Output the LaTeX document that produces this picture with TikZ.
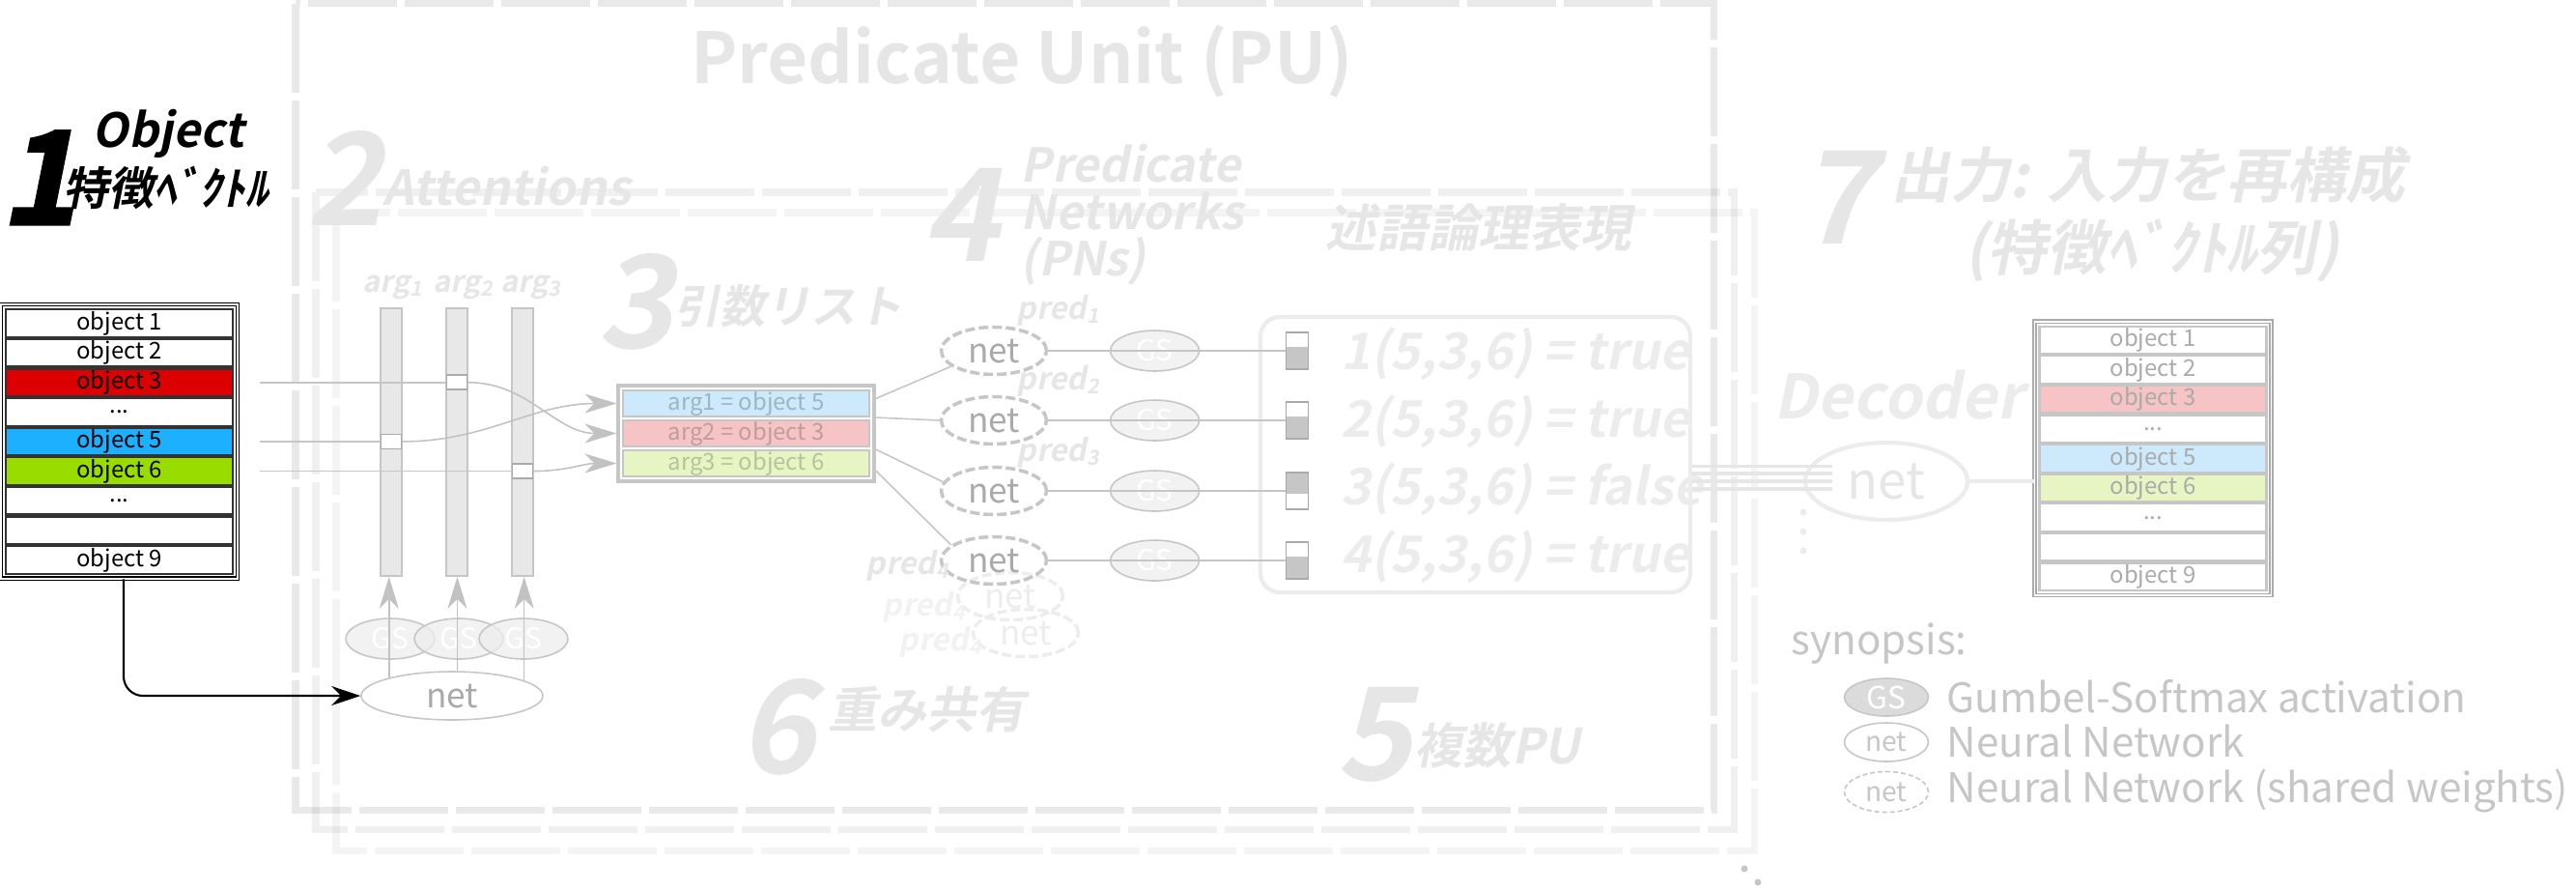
\documentclass[tikz,border=0pt]{standalone}
\usepackage{fontspec}
\setmainfont{Noto Sans CJK JP}
\newfontfamily\bfont{Noto Sans CJK JP Bold}
\newfontfamily\bifont{Noto Sans CJK JP Bold}[FakeSlant=0.2]
\newfontfamily\heavyfont{Noto Sans CJK JP Bold}[FakeSlant=0.2,FakeBold=2.5]
\usepackage{tikz}
\usetikzlibrary{positioning,arrows.meta,fit,shapes.geometric}

\definecolor{faint}{HTML}{E6E6E6}
\definecolor{fainter}{HTML}{ECECEC}
\definecolor{lgrey}{HTML}{C6C6C6}
\definecolor{mgrey}{HTML}{AAAAAA}
\definecolor{objred}{HTML}{DD0000}
\definecolor{objblue}{HTML}{1CB0FF}
\definecolor{objgreen}{HTML}{99DD00}
\definecolor{palered}{HTML}{F6C4C4}
\definecolor{paleblue}{HTML}{CCEAFB}
\definecolor{palegreen}{HTML}{E7F5C3}
\definecolor{redtext}{HTML}{C09C9C}
\definecolor{bluetext}{HTML}{9BB5C2}
\definecolor{greentext}{HTML}{B4C49C}

\begin{document}
\begin{tikzpicture}[
    node distance=0cm,
    puframe/.style={line width=2pt, draw=black, dash pattern=on 0.92cm off 0.08cm},
    bignum/.style={anchor=base west, inner sep=0pt, text=faint, font=\bifont\fontsize{38}{38}\selectfont},
    heading/.style={anchor=base west, inner sep=0pt, text=faint, font=\bifont\fontsize{13.8}{14}\selectfont},
    row/.style={rectangle, draw=black!80, line width=0.6pt, minimum width=2.35cm, minimum height=0.285cm, inner sep=0pt, font=\fontsize{6.8}{7}\selectfont},
    outrow/.style={row, draw=lgrey, text=mgrey},
    argrow/.style={row, draw=lgrey, line width=0.45pt, minimum width=2.55cm, minimum height=0.27cm},
    listframe/.style={draw, double, double distance=0.5pt, line width=0.4pt, inner sep=0.04cm},
    attbar/.style={rectangle, draw=lgrey, fill=black!9, line width=0.45pt, minimum width=0.22cm, minimum height=2.77cm, inner sep=0pt},
    sq/.style={rectangle, draw=mgrey, fill=white, line width=0.45pt, minimum width=0.21cm, minimum height=0.15cm, inner sep=0pt},
    gs/.style={ellipse, draw=lgrey, fill=black!7, fill opacity=0.75, text opacity=1, text=white, line width=0.45pt, minimum width=0.92cm, minimum height=0.42cm, inner sep=0pt, font=\fontsize{8.5}{9}\selectfont},
    net/.style={ellipse, draw=lgrey, fill=white, line width=0.45pt, text=mgrey, minimum width=1.88cm, minimum height=0.5cm, inner sep=0pt, font=\fontsize{10}{10}\selectfont},
    pnet/.style={net, fill=none, dash pattern=on 0.1cm off 0.04cm, line width=1pt, minimum width=1.09cm, minimum height=0.49cm},
    ghostnet/.style={pnet, draw=black!7, text=black!7},
    predlabel/.style={anchor=base west, inner sep=0pt, text=faint, font=\bifont\fontsize{9}{9}\selectfont},
    arglabel/.style={predlabel, font=\bifont\fontsize{8.7}{9}\selectfont},
    tvbar/.style={rectangle, draw=mgrey, line width=0.45pt, minimum width=0.23cm, minimum height=0.38cm, inner sep=0pt},
    tvtrue/.style={tvbar, path picture={\fill[lgrey] (path picture bounding box.south west) rectangle ([yshift=0.23cm]path picture bounding box.south east);}},
    tvfalse/.style={tvbar, path picture={\fill[lgrey] (path picture bounding box.north west) rectangle ([yshift=-0.22cm]path picture bounding box.north east);}},
    formula/.style={anchor=base west, inner sep=0pt, text=fainter, font=\bifont\fontsize{14.9}{15}\selectfont},
    conn/.style={draw=lgrey, line width=0.45pt},
    garrow/.style={conn, draw=black!24, -{Stealth[length=0.33cm, width=0.2cm, inset=0.1cm]}},
    blackarrow/.style={line width=0.6pt, -{Stealth[length=0.3cm, width=0.2cm, inset=0.1cm]}, rounded corners=0.2cm},
    legend/.style={anchor=base west, inner sep=0pt, text=lgrey, font=\fontsize{12}{13}\selectfont}
  ]
  \useasboundingbox (0,0) rectangle (26.67,-9.2);

  % Frames of the stacked predicate units
  \draw[puframe, draw opacity=0.045] (3.48,-2.20) rectangle (18.16,-8.80);
  \draw[puframe, draw opacity=0.06] (3.27,-1.99) rectangle (17.95,-8.58);
  \draw[puframe, draw opacity=0.085] (3.06,-0.035) rectangle (17.74,-8.38);

  % Titles
  \node[anchor=base, inner sep=0pt, text=faint, font=\bfont\fontsize{20.7}{21}\selectfont] (putitle) at (10.58,-0.86) {Predicate Unit (PU)};
  \node[bignum, text=black, font=\heavyfont\fontsize{38}{38}\selectfont] (one) at (0,-2.32) {1};
  \node[heading, text=black] (objtitle) at (0.95,-1.52) {Object};
  \node[heading, text=black, font=\bifont\fontsize{13.4}{14}\selectfont] (featvec) at (0.65,-2.12) {特徴ﾍﾞｸﾄﾙ};
  \node[bignum] (two) at (3.17,-2.33) {2};
  \node[heading, font=\bifont\fontsize{14.2}{15}\selectfont] (attn) at (3.96,-2.12) {Attentions};
  \node[bignum] (three) at (6.18,-3.60) {3};
  \node[heading, font=\bifont\fontsize{13.4}{14}\selectfont] (arglist) at (6.98,-3.34) {引数リスト};
  \node[bignum] (four) at (9.55,-2.70) {4};
  \node[heading] (pnA) at (10.56,-1.88) {Predicate};
  \node[heading] (pnB) at (10.56,-2.37) {Networks};
  \node[heading] (pnC) at (10.56,-2.85) {(PNs)};
  \node[heading, font=\bifont\fontsize{15}{15}\selectfont] (logic) at (13.72,-2.55) {述語論理表現};
  \node[bignum] (six) at (7.65,-8.00) {6};
  \node[heading, font=\bifont\fontsize{14.5}{15}\selectfont] (share) at (8.57,-7.53) {重み共有};
  \node[bignum] (five) at (13.83,-8.07) {5};
  \node[heading, font=\bifont\fontsize{14.3}{15}\selectfont] (multi) at (14.64,-7.90) {複数PU};
  \node[bignum] (seven) at (18.62,-2.52) {7};
  \node[anchor=base, inner sep=0pt, text=faint, font=\bifont\fontsize{17.6}{18}\selectfont] (outtitle) at (22.24,-2.04) {出力: 入力を再構成};
  \node[anchor=base, inner sep=0pt, text=faint, font=\bifont\fontsize{17.6}{18}\selectfont] (outsub) at (22.28,-2.79) {(特徴ﾍﾞｸﾄﾙ列)};
  \node[heading, text=fainter, font=\bifont\fontsize{18}{18}\selectfont] (decoder) at (18.36,-4.33) {Decoder};

  % Input objects
  \node[row] (o1) at (1.235,-3.345) {object 1};
  \node[row, below=of o1] (o2) {object 2};
  \node[row, fill=objred, below=of o2] (o3) {object 3};
  \node[row, below=of o3] (o4) {...};
  \node[row, fill=objblue, below=of o4] (o5) {object 5};
  \node[row, fill=objgreen, below=of o5] (o6) {object 6};
  \node[row, below=of o6] (o7) {...};
  \node[row, below=of o7] (o8) {};
  \node[row, below=of o8] (o9) {object 9};
  \node[listframe, fit=(o1)(o9)] (inlist) {};

  % Attentions
  \node[attbar] (bar1) at (4.05,-4.575) {};
  \node[attbar] (bar2) at (4.73,-4.575) {};
  \node[attbar] (bar3) at (5.41,-4.575) {};
  \node[arglabel] (arg1) at (3.75,-3.02) {arg\textsubscript{1}};
  \node[arglabel] (arg2) at (4.48,-3.02) {arg\textsubscript{2}};
  \node[arglabel] (arg3) at (5.18,-3.02) {arg\textsubscript{3}};
  \node[sq] (sq1) at (bar1 |- o5) {};
  \node[sq] (sq2) at (bar2 |- o3) {};
  \node[sq] (sq3) at (bar3 |- o6) {};
  \coordinate (in3) at ([xshift=0.27cm]o3.east);
  \coordinate (in5) at ([xshift=0.27cm]o5.east);
  \coordinate (in6) at ([xshift=0.27cm]o6.east);
  \node[gs] (gsa) at (4.04,-6.61) {GS};
  \node[gs] (gsb) at (4.75,-6.61) {GS};
  \node[gs] (gsc) at (5.42,-6.61) {GS};
  \node[net] (attnet) at (4.68,-7.20) {net};

  % Argument list
  \node[argrow, fill=paleblue, text=bluetext] (a1) at (7.725,-4.175) {arg1 = object 5};
  \node[argrow, fill=palered, text=redtext, below=0.024cm of a1] (a2) {arg2 = object 3};
  \node[argrow, fill=palegreen, text=greentext, below=0.024cm of a2] (a3) {arg3 = object 6};
  \node[draw=lgrey, line width=1pt, inner sep=0.04cm, fit=(a1)(a3)] (argbox) {};

  % Predicate networks
  \node[ghostnet] (ghost2) at (10.62,-6.55) {net};
  \node[ghostnet] (ghost1) at (10.46,-6.17) {net};
  \node[pnet] (net1) at (10.29,-3.63) {net};
  \node[pnet] (net2) at (10.29,-4.35) {net};
  \node[pnet] (net3) at (10.29,-5.08) {net};
  \node[pnet] (net4) at (10.29,-5.80) {net};
  \node[predlabel] (pred1) at (10.52,-3.30) {pred\textsubscript{1}};
  \node[predlabel] (pred2) at (10.52,-4.03) {pred\textsubscript{2}};
  \node[predlabel] (pred3) at (10.52,-4.77) {pred\textsubscript{3}};
  \node[predlabel] (pred4) at (8.96,-5.94) {pred\textsubscript{4}};
  \node[predlabel, text=black!5] (pred4b) at (9.13,-6.37) {pred\textsubscript{4}};
  \node[predlabel, text=black!5] (pred4c) at (9.30,-6.73) {pred\textsubscript{4}};
  \node[gs, right=0.635cm of net1] (gs1) {GS};
  \node[gs, right=0.635cm of net2] (gs2) {GS};
  \node[gs, right=0.635cm of net3] (gs3) {GS};
  \node[gs, right=0.635cm of net4] (gs4) {GS};
  \node[tvtrue, right=0.885cm of gs1] (tv1) {};
  \node[tvtrue, right=0.885cm of gs2] (tv2) {};
  \node[tvfalse, right=0.885cm of gs3] (tv3) {};
  \node[tvtrue, right=0.885cm of gs4] (tv4) {};
  \node[formula] (f1) at (13.88,-3.82) {1(5,3,6) = true};
  \node[formula] (f2) at (13.88,-4.52) {2(5,3,6) = true};
  \node[formula] (f3) at (13.88,-5.22) {3(5,3,6) = false};
  \node[formula] (f4) at (13.88,-5.92) {4(5,3,6) = true};
  \node[draw=fainter, line width=1.2pt, rounded corners=0.2cm, minimum width=4.45cm, minimum height=2.85cm] (tvbox) at (15.275,-4.705) {};

  % Decoder and output
  \node[net, draw=fainter, line width=1.2pt, text=faint, minimum width=1.68cm, minimum height=0.8cm, font=\fontsize{15}{15}\selectfont] (decnet) at (19.53,-4.98) {net};
  \coordinate (decin) at (18.97,-4.98);
  \node[outrow] (r1) at (22.29,-3.52) {object 1};
  \node[outrow, below=of r1] (r2) {object 2};
  \node[outrow, fill=palered, below=of r2] (r3) {object 3};
  \node[outrow, below=of r3] (r4) {...};
  \node[outrow, fill=paleblue, below=of r4] (r5) {object 5};
  \node[outrow, fill=palegreen, below=of r5] (r6) {object 6};
  \node[outrow, below=of r6] (r7) {...};
  \node[outrow, below=of r7] (r8) {};
  \node[outrow, below=of r8] (r9) {object 9};
  \node[listframe, draw=mgrey, fit=(r1)(r9)] (outlist) {};

  % Synopsis
  \node[legend] (syn) at (18.54,-6.77) {synopsis:};
  \node[gs, fill=black!14, fill opacity=1, minimum width=0.87cm, minimum height=0.39cm, font=\fontsize{9}{9}\selectfont] (lgs) at (19.53,-7.215) {GS};
  \node[legend] (lgstext) at (20.15,-7.37) {Gumbel-Softmax activation};
  \node[net, text=lgrey, minimum width=0.87cm, minimum height=0.40cm, font=\fontsize{8}{8}\selectfont] (lnet) at (19.53,-7.68) {net};
  \node[legend] (lnettext) at (20.15,-7.83) {Neural Network};
  \node[pnet, text=lgrey, dash pattern=on 0.05cm off 0.03cm, line width=0.45pt, minimum width=0.87cm, minimum height=0.42cm, font=\fontsize{8}{8}\selectfont] (lpnet) at (19.53,-8.195) {net};
  \node[legend] (lpnettext) at (20.15,-8.30) {Neural Network (shared weights)};

  % Arrows
  \draw[blackarrow] ([xshift=0.045cm]inlist.south) |- (attnet.west);
  \draw[garrow] (attnet.164) -- (attnet.164 |- bar1.south);
  \draw[garrow] (attnet.78) -- (attnet.78 |- bar2.south);
  \draw[garrow] (attnet.12) -- (attnet.12 |- bar3.south);
  \draw[conn] (in3) -- (sq2.west);
  \draw[conn] (in5) -- (sq1.west);
  \draw[conn] (in6) -- (sq3.west);
  \draw[garrow] (sq2.east) to[out=0, in=180] (argbox.west |- a2);
  \draw[garrow] (sq1.east) to[out=0, in=180] (argbox.west |- a1);
  \draw[garrow] (sq3.east) to[out=0, in=180] (argbox.west |- a3);
  \draw[conn] (argbox.15) -- (net1.200);
  \draw[conn] (argbox.7) -- (net2.west);
  \draw[conn] (argbox.-7) -- (net3.170);
  \draw[conn] (argbox.-16) -- (net4.160);
  \draw[conn] (net1) -- (tv1);
  \draw[conn] (net2) -- (tv2);
  \draw[conn] (net3) -- (tv3);
  \draw[conn] (net4) -- (tv4);
  \draw[conn, draw=faint, line width=1pt] (tvbox.-3) -- (tvbox.-3 -| decin);
  \draw[conn, draw=faint, line width=1pt] (tvbox.-5) -- (tvbox.-5 -| decin);
  \draw[conn, draw=faint, line width=1pt] (tvbox.-7) -- (tvbox.-7 -| decin);
  \draw[conn, draw=faint, line width=1pt] (tvbox.-9) -- (tvbox.-9 -| decin);
  \draw[conn, draw=fainter, line width=1.2pt] (decnet.east) -- (decnet.east -| outlist.west);

  % More inputs and more units
  \fill[fainter] (18.67,-5.30) circle (0.035);
  \fill[fainter] (18.67,-5.50) circle (0.035);
  \fill[fainter] (18.67,-5.70) circle (0.035);
  \fill[lgrey] (18.06,-8.99) circle (0.035);
  \fill[lgrey] (18.20,-9.13) circle (0.035);
\end{tikzpicture}
\end{document}
